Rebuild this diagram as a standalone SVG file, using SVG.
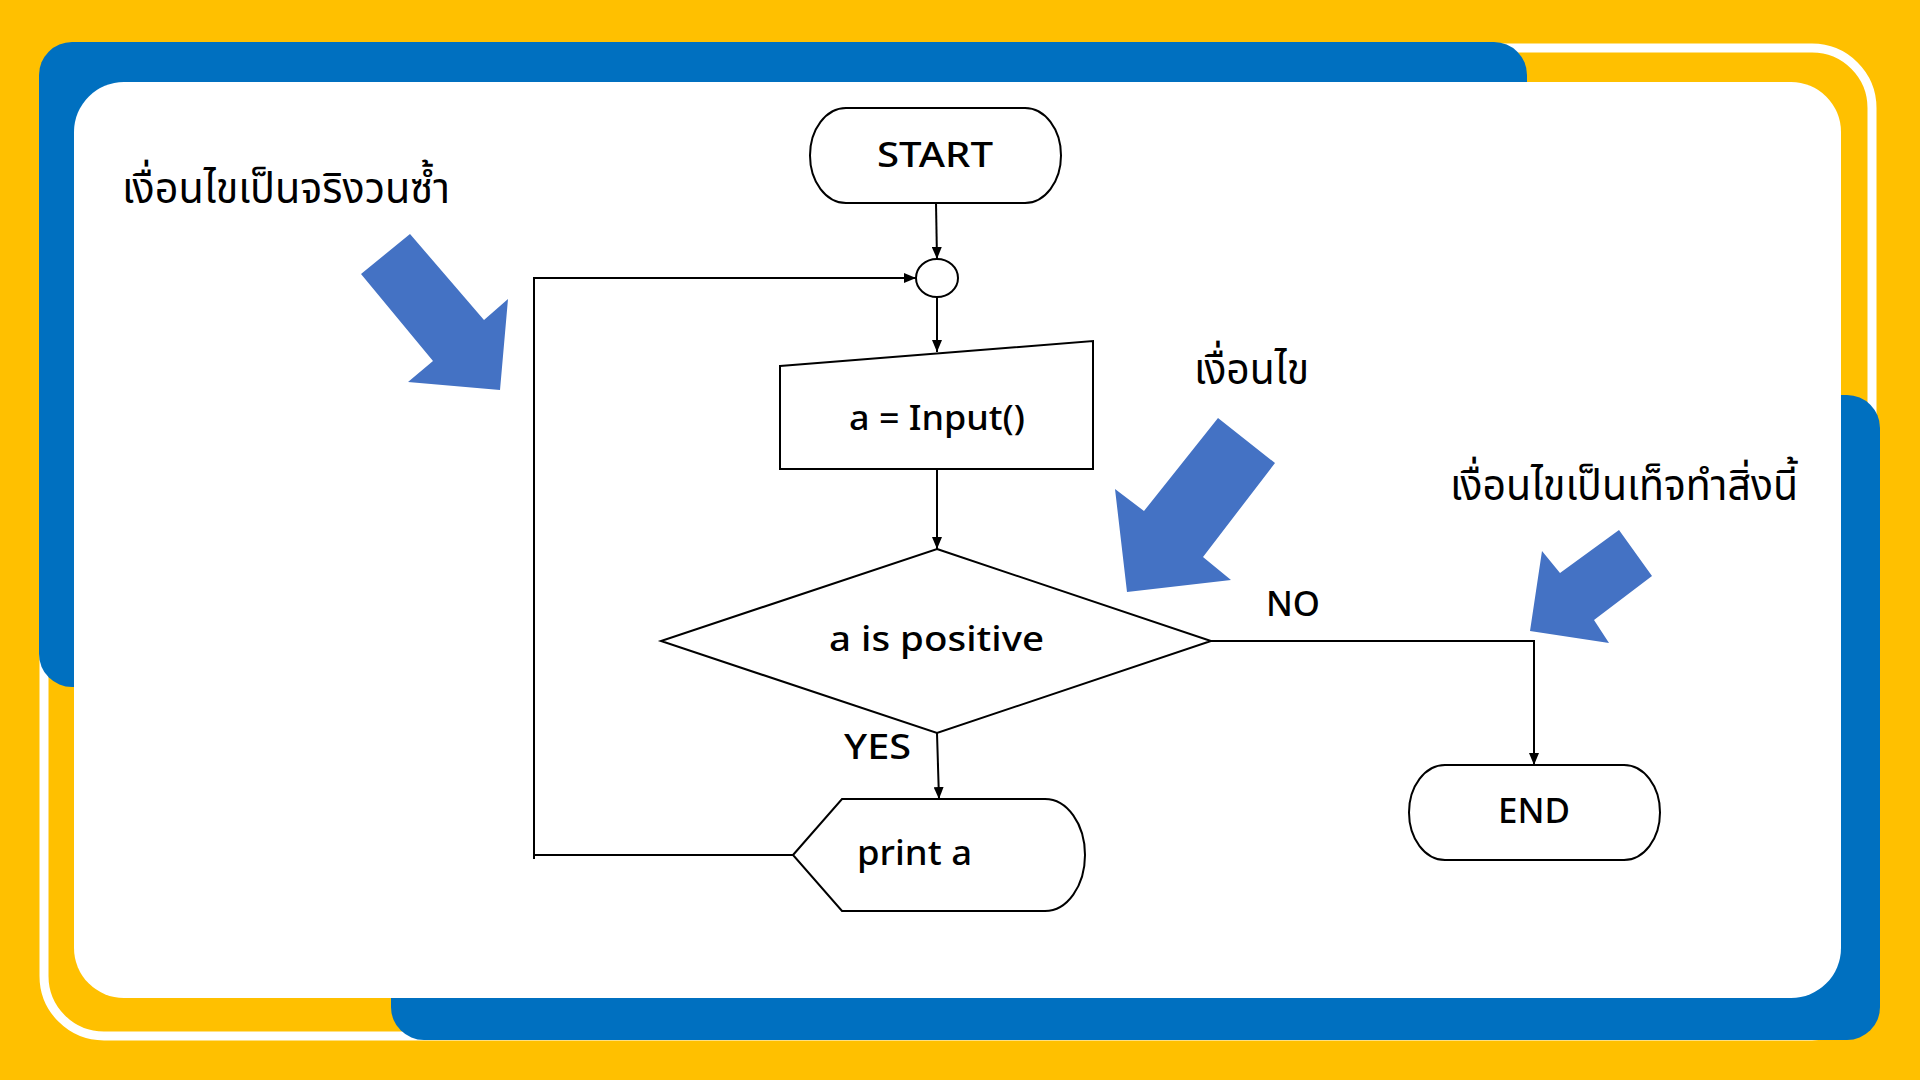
<svg xmlns="http://www.w3.org/2000/svg" width="1920" height="1080" viewBox="0 0 1920 1080">
<style>
.shape{fill:#ffffff;stroke:#000000;stroke-width:2}
.conn{fill:none;stroke:#000000;stroke-width:2}
.lbl{font-family:"Noto Sans","Liberation Sans",sans-serif;font-weight:500;font-size:35px;fill:#000000}
.thai{font-family:"Noto Sans Thai","Noto Sans","DejaVu Sans",sans-serif;font-size:43px;fill:#000000}
.barrow{fill:#4472C4}
</style>
<defs>
<marker id="ah" markerUnits="userSpaceOnUse" markerWidth="12" markerHeight="10" refX="12" refY="5" orient="auto">
<path d="M0,0 L12,5 L0,10 z" fill="#000000"/>
</marker>
</defs>
<g id="background">
<rect x="0" y="0" width="1920" height="1080" fill="#FFC000"/>
<rect x="44" y="48" width="1828" height="988" rx="60" ry="60" fill="none" stroke="#ffffff" stroke-width="9"/>
<rect x="39" y="42" width="1488" height="645" rx="33" ry="33" fill="#0070C0"/>
<rect x="391" y="395" width="1489" height="645" rx="33" ry="33" fill="#0070C0"/>
<rect x="74" y="82" width="1767" height="916" rx="50" ry="50" fill="#ffffff"/>
</g>
<g id="connectors">
<line class="conn" x1="936" y1="203" x2="937" y2="259" marker-end="url(#ah)"/>
<line class="conn" x1="937" y1="297" x2="937" y2="352" marker-end="url(#ah)"/>
<line class="conn" x1="937" y1="469" x2="937" y2="549" marker-end="url(#ah)"/>
<line class="conn" x1="937" y1="733" x2="939" y2="799" marker-end="url(#ah)"/>
<polyline class="conn" points="1211,641 1534,641 1534,765" marker-end="url(#ah)"/>
<polyline class="conn" points="793,855 534,855 534,278 916,278" marker-end="url(#ah)"/>
<line class="conn" x1="534" y1="855" x2="534" y2="859"/>
</g>
<g id="start">
<rect class="shape" x="810" y="108" width="251" height="95" rx="36" ry="47.5"/>
<text class="lbl" x="935" y="167" text-anchor="middle" font-size="37" textLength="116" lengthAdjust="spacingAndGlyphs">START</text>
</g>
<g id="connector-node">
<ellipse class="shape" cx="937" cy="278" rx="21" ry="19"/>
</g>
<g id="input">
<polygon class="shape" points="780,366 1093,341 1093,469 780,469"/>
<text class="lbl" x="937" y="430" text-anchor="middle" textLength="176" lengthAdjust="spacingAndGlyphs">a = Input()</text>
</g>
<g id="decision">
<polygon class="shape" points="937,549 1211,641 937,733 661,641"/>
<text class="lbl" x="936.5" y="651" text-anchor="middle" textLength="215" lengthAdjust="spacingAndGlyphs">a is positive</text>
</g>
<g id="print">
<path class="shape" d="M793,855 L842,799 L1045,799 A40,56 0 0 1 1045,911 L842,911 Z"/>
<text class="lbl" x="857" y="865" textLength="115" lengthAdjust="spacingAndGlyphs">print a</text>
</g>
<g id="end">
<rect class="shape" x="1409" y="765" width="251" height="95" rx="36" ry="47.5"/>
<text class="lbl" x="1534" y="823" text-anchor="middle" textLength="72" lengthAdjust="spacingAndGlyphs">END</text>
</g>
<g id="edge-labels">
<text class="lbl" x="877.5" y="759" text-anchor="middle" textLength="67" lengthAdjust="spacingAndGlyphs">YES</text>
<text class="lbl" x="1266" y="616" textLength="54" lengthAdjust="spacingAndGlyphs">NO</text>
</g>
<g id="annotations">
<text class="thai" x="122" y="203" textLength="328" lengthAdjust="spacingAndGlyphs">เงื่อนไขเป็นจริงวนซ้ำ</text>
<text class="thai" x="1194" y="384" textLength="115" lengthAdjust="spacingAndGlyphs">เงื่อนไข</text>
<text class="thai" x="1450" y="500" textLength="348" lengthAdjust="spacingAndGlyphs">เงื่อนไขเป็นเท็จทำสิ่งนี้</text>
<polygon class="barrow" points="410,234 484,320 508,299 500,390 408,382 433,361 361,274"/>
<polygon class="barrow" points="1218,418 1275,463 1203,557 1231,580 1127,592 1115,489 1144,511"/>
<polygon class="barrow" points="1619,530 1652,576 1594,620 1609,643 1530,631 1542,551 1560,573"/>
</g>
</svg>
